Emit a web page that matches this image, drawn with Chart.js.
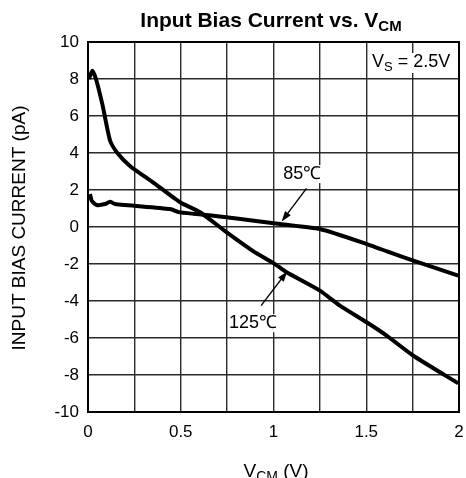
<!DOCTYPE html>
<html>
<head>
<meta charset="utf-8">
<script src="https://cdn.jsdelivr.net/npm/chart.js@4"></script>
<style>
  html, body { margin: 0; padding: 0; background: #fff; }
  #wrap { width: 466px; height: 478px; }
</style>
</head>
<body>
<div id="wrap"><canvas id="biasChart" width="466" height="478"></canvas></div>
<script>
// --- Data ---
const vcm125 = [0.005, 0.023, 0.043, 0.079, 0.119, 0.155, 0.226, 0.352, 0.496, 0.604, 0.748, 0.89, 1.0, 1.071, 1.25, 1.358, 1.502, 1.61, 1.754, 1.996];
const ib125  = [8.0, 8.45, 8.0, 6.56, 4.67, 4.04, 3.3, 2.4, 1.34, 0.8, -0.29, -1.3, -1.95, -2.45, -3.44, -4.25, -5.15, -5.87, -6.96, -8.45];

const vcm85 = [0.011, 0.02, 0.047, 0.092, 0.119, 0.146, 0.442, 0.496, 0.676, 0.927, 1.035, 1.25, 1.502, 1.754, 1.996];
const ib85  = [1.78, 1.42, 1.19, 1.24, 1.37, 1.24, 0.97, 0.79, 0.61, 0.3, 0.16, -0.11, -0.92, -1.82, -2.63];

const xTicks = [0, 0.5, 1, 1.5, 2];
const yTicks = [-10, -8, -6, -4, -2, 0, 2, 4, 6, 8, 10];

const FONT = "'Liberation Sans', Arial, sans-serif";

function toPoints(xs, ys) {
    return xs.map((x, i) => ({ x: x, y: ys[i] }));
}

/* --- Text, arrows and border drawn on top --- */
const overlay = {
    id: 'overlay',
    afterDraw(chart) {
        const ctx = chart.ctx;
        const xs = chart.scales.x, ys = chart.scales.y;
        const area = chart.chartArea;
        ctx.save();

        // plot border
        ctx.strokeStyle = '#000';
        ctx.lineWidth = 2;
        ctx.strokeRect(area.left, area.top, area.right - area.left, area.bottom - area.top);

        ctx.fillStyle = '#000';
        ctx.textBaseline = 'alphabetic';
        ctx.textAlign = 'left';

        // title with subscript
        ctx.font = 'bold 21px ' + FONT;
        const t1 = 'Input Bias Current vs. V';
        const w1 = ctx.measureText(t1).width;
        ctx.font = 'bold 15px ' + FONT;
        const w2 = ctx.measureText('CM').width;
        const tx = 271 - (w1 + w2) / 2;
        ctx.font = 'bold 21px ' + FONT;
        ctx.fillText(t1, tx, 27);
        ctx.font = 'bold 15px ' + FONT;
        ctx.fillText('CM', tx + w1, 31);

        // x axis title
        ctx.font = '19px ' + FONT;
        const a1 = ctx.measureText('V').width;
        ctx.font = '14px ' + FONT;
        const a2 = ctx.measureText('CM').width;
        ctx.font = '19px ' + FONT;
        const a3 = ctx.measureText(' (V)').width;
        const ax = 276 - (a1 + a2 + a3) / 2;
        ctx.fillText('V', ax, 477);
        ctx.font = '14px ' + FONT;
        ctx.fillText('CM', ax + a1, 481);
        ctx.font = '19px ' + FONT;
        ctx.fillText(' (V)', ax + a1 + a2, 477);

        // y axis title
        ctx.save();
        ctx.translate(25, 228);
        ctx.rotate(-Math.PI / 2);
        ctx.textAlign = 'center';
        ctx.font = '19px ' + FONT;
        ctx.fillText('INPUT BIAS CURRENT (pA)', 0, 0);
        ctx.restore();

        // VS = 2.5V label
        ctx.font = '18px ' + FONT;
        const b1 = ctx.measureText('V').width;
        ctx.font = '13px ' + FONT;
        const b2 = ctx.measureText('S').width;
        ctx.font = '18px ' + FONT;
        const b3 = ctx.measureText(' = 2.5V').width;
        const bx = 372, by = 67;
        ctx.fillStyle = '#fff';
        ctx.fillRect(bx - 2, by - 14, b1 + b2 + b3 + 4, 20);
        ctx.fillStyle = '#000';
        ctx.fillText('V', bx, by);
        ctx.font = '13px ' + FONT;
        ctx.fillText('S', bx + b1, by + 4);
        ctx.font = '18px ' + FONT;
        ctx.fillText(' = 2.5V', bx + b1 + b2, by);

        // temperature labels
        ctx.font = '18px ' + FONT;
        ctx.textAlign = 'center';
        ctx.textBaseline = 'middle';
        [['85℃', 1.155, 2.86], ['125℃', 0.89, -5.2]].forEach(([txt, x, y]) => {
            const px = xs.getPixelForValue(x), py = ys.getPixelForValue(y);
            const w = ctx.measureText(txt).width;
            ctx.fillStyle = '#fff';
            ctx.fillRect(px - w / 2 - 1, py - 9, w + 2, 18);
            ctx.fillStyle = '#000';
            ctx.fillText(txt, px, py);
        });

        // arrows
        function arrow(x0, y0, x1, y1) {
            const p0x = xs.getPixelForValue(x0), p0y = ys.getPixelForValue(y0);
            const p1x = xs.getPixelForValue(x1), p1y = ys.getPixelForValue(y1);
            const ang = Math.atan2(p1y - p0y, p1x - p0x);
            ctx.strokeStyle = '#000';
            ctx.lineWidth = 1.4;
            ctx.beginPath();
            ctx.moveTo(p0x, p0y);
            ctx.lineTo(p1x - 6 * Math.cos(ang), p1y - 6 * Math.sin(ang));
            ctx.stroke();
            ctx.beginPath();
            ctx.moveTo(p1x, p1y);
            ctx.lineTo(p1x - 11 * Math.cos(ang - 0.33), p1y - 11 * Math.sin(ang - 0.33));
            ctx.lineTo(p1x - 11 * Math.cos(ang + 0.33), p1y - 11 * Math.sin(ang + 0.33));
            ctx.closePath();
            ctx.fillStyle = '#000';
            ctx.fill();
        }
        arrow(1.178, 2.09, 1.044, 0.3);
        arrow(0.933, -4.25, 1.074, -2.4);

        ctx.restore();
    }
};

function noScalePadding(s) {
    s.paddingLeft = 0;
    s.paddingRight = 0;
    s.paddingTop = 0;
    s.paddingBottom = 0;
}

document.addEventListener('DOMContentLoaded', () => {
    const ctx = document.getElementById('biasChart');
    new Chart(ctx, {
        type: 'scatter',
        data: {
            datasets: [
                {
                    label: '125°C',
                    data: toPoints(vcm125, ib125),
                    showLine: true,
                    borderColor: '#000',
                    borderWidth: 4,
                    pointRadius: 0,
                    tension: 0.2
                },
                {
                    label: '85°C',
                    data: toPoints(vcm85, ib85),
                    showLine: true,
                    borderColor: '#000',
                    borderWidth: 4,
                    pointRadius: 0,
                    tension: 0.2
                }
            ]
        },
        options: {
            responsive: false,
            animation: false,
            layout: { padding: { left: 0, right: 7, top: 42, bottom: 0 } },
            plugins: {
                legend: { display: false },
                tooltip: { enabled: false }
            },
            scales: {
                x: {
                    type: 'linear',
                    min: 0,
                    max: 2,
                    afterFit: (s) => { s.height = 66; noScalePadding(s); },
                    afterBuildTicks: (s) => {
                        s.ticks = [0, 0.25, 0.5, 0.75, 1, 1.25, 1.5, 1.75, 2].map(v => ({ value: v }));
                    },
                    grid: { color: '#2a2a2a', lineWidth: 1.4, drawTicks: false },
                    border: { display: false },
                    ticks: {
                        color: '#000',
                        font: { family: FONT, size: 17 },
                        padding: 10,
                        maxRotation: 0,
                        autoSkip: false,
                        callback: (v) => xTicks.includes(v) ? String(v) : ''
                    }
                },
                y: {
                    type: 'linear',
                    min: -10,
                    max: 10,
                    afterFit: (s) => { s.width = 88; noScalePadding(s); },
                    afterBuildTicks: (s) => {
                        s.ticks = yTicks.map(v => ({ value: v }));
                    },
                    grid: { color: '#2a2a2a', lineWidth: 1.4, drawTicks: false },
                    border: { display: false },
                    ticks: {
                        color: '#000',
                        font: { family: FONT, size: 17 },
                        padding: 9,
                        autoSkip: false
                    }
                }
            }
        },
        plugins: [overlay]
    });
});
</script>
</body>
</html>
